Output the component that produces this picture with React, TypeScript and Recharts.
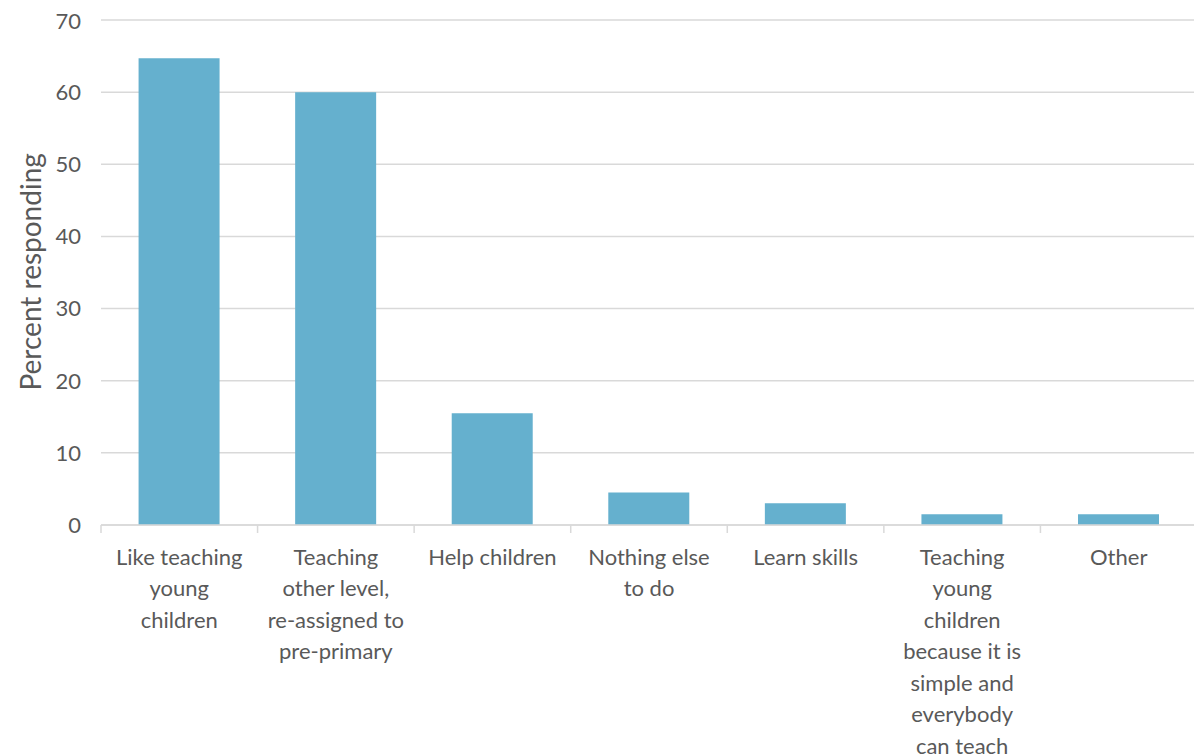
import React from "react";
import { BarChart, Bar, XAxis, YAxis, CartesianGrid } from "recharts";

const categories = [
  "Like teaching\nyoung\nchildren",
  "Teaching\nother level,\nre-assigned to\npre-primary",
  "Help children",
  "Nothing else\nto do",
  "Learn skills",
  "Teaching\nyoung\nchildren\nbecause it is\nsimple and\neverybody\ncan teach",
  "Other",
];
const percents = [64.7, 60, 15.5, 4.5, 3, 1.5, 1.5];
const yTicks = [0, 10, 20, 30, 40, 50, 60, 70];

const data = categories.map((name, i) => ({ name, value: percents[i] }));

const FONT = "Lato, 'Open Sans', sans-serif";
const TEXT = "#595959";
const GRID = "#d9d9d9";

const CategoryTick = (props: any) => {
  const { x, y, payload, index, visibleTicksCount, width } = props;
  const step = width / visibleTicksCount;
  const lines = String(payload.value).split("\n");
  const axisY = y - 8;
  return (
    <g>
      <line x1={x - step / 2} x2={x - step / 2} y1={axisY} y2={axisY + 8} stroke={GRID} strokeWidth={1.5} />
      {index === visibleTicksCount - 1 && (
        <line x1={x + step / 2} x2={x + step / 2} y1={axisY} y2={axisY + 8} stroke={GRID} strokeWidth={1.5} />
      )}
      <text x={x} y={axisY + 32} textAnchor="middle" fill={TEXT} fontSize={22} fontFamily={FONT}>
        {lines.map((l, i) => (
          <tspan key={i} x={x} dy={i === 0 ? "0.35em" : 31.5}>
            {l}
          </tspan>
        ))}
      </text>
    </g>
  );
};

const App = () => {
  return (
    <div style={{ width: 1194, height: 746, background: "#fff" }}>
      <BarChart
        width={1194}
        height={746}
        data={data}
        margin={{ top: 12, right: 5, left: 0, bottom: 0 }}
        barCategoryGap="24%"
      >
        <CartesianGrid vertical={false} stroke={GRID} strokeWidth={1.5} />
        <XAxis
          dataKey="name"
          interval={0}
          height={229}
          tickLine={false}
          axisLine={{ stroke: GRID, strokeWidth: 1.5 }}
          tick={<CategoryTick />}
        />
        <YAxis
          domain={[0, 70]}
          ticks={yTicks}
          width={93}
          axisLine={false}
          tickLine={false}
          tickMargin={14}
          tick={{ fill: TEXT, fontSize: 22, fontFamily: FONT }}
          label={{
            value: "Percent responding",
            angle: -90,
            position: "insideLeft",
            dx: 18,
            dy: 118,
            style: { fill: TEXT, fontSize: 28, fontFamily: FONT },
          }}
        />
        <Bar dataKey="value" fill="#65b0ce" isAnimationActive={false} />
      </BarChart>
    </div>
  );
};

export default App;
